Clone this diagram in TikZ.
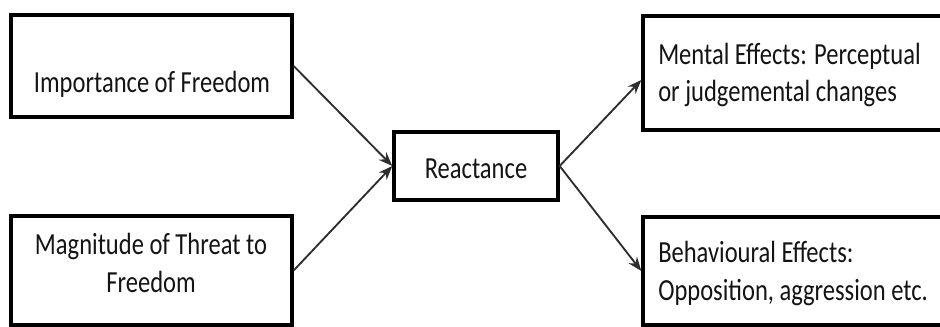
\documentclass[tikz,border=0pt]{standalone}
\usepackage{fontspec}
\setmainfont{Carlito}[FakeStretch=0.8]
\usetikzlibrary{arrows.meta,calc}
\begin{document}
\begin{tikzpicture}[x=0.75pt,y=-0.75pt,
  box/.style={draw=black,line width=2.5pt,fill=white,inner sep=0pt},
  lbl/.style={inner sep=0pt,text=black!92,font=\fontsize{23}{28}\selectfont},
  link/.style={draw=black!82,line width=1.4pt,-{Stealth[length=10.5pt,width=8pt]}}]
  \useasboundingbox (0,0) rectangle (940,327);

  % boxes
  \node[box,minimum width=210.75pt,minimum height=76.5pt] (imp) at (151.5,66) {};
  \node[box,minimum width=210.75pt,minimum height=81.75pt] (mag) at (151.5,270.5) {};
  \node[box,minimum width=123pt,minimum height=51pt] (react) at (476,166) {};
  \node[box,minimum width=234pt,minimum height=85.5pt] (mental) at (799,73) {};
  \node[box,minimum width=234pt,minimum height=81pt] (behav) at (799,271) {};

  % texts
  \node[lbl,anchor=base] (impT) at (152,93) {Importance of Freedom};
  \node[lbl,anchor=base] (magT1) at (151,255) {Magnitude of Threat to};
  \node[lbl,anchor=base] (magT2) at (151,293) {Freedom};
  \node[lbl,anchor=base] (reactT) at (476,179) {Reactance};
  \node[lbl,anchor=base west] (mentT1) at (658,65) {Mental Effects: Perceptual};
  \node[lbl,anchor=base west] (mentT2) at (658,102) {or judgemental changes};
  \node[lbl,anchor=base west] (behT1) at (658,263) {Behavioural Effects:};
  \node[lbl,anchor=base west] (behT2) at (658,301) {Opposition, aggression etc.};

  % connectors
  \draw[link] (imp.east) -- (react.west);
  \draw[link] (mag.east) -- (react.west);
  \draw[link] (react.east) -- ($(mental.west)+(0,7)$);
  \draw[link] (react.east) -- (behav.west);
\end{tikzpicture}
\end{document}
